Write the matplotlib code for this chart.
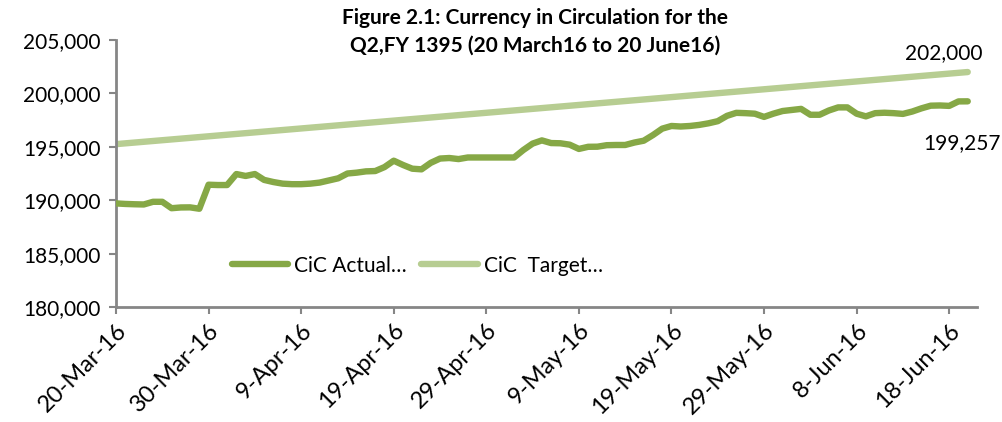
import matplotlib
matplotlib.use("Agg")
import matplotlib.pyplot as plt
import matplotlib.ticker as mticker
import matplotlib.transforms as mtransforms
import pandas as pd

plt.rcParams['font.family'] = ['Lato', 'DejaVu Sans']

# ---- data ----
actual_start = '2016-03-20'
actual_end = '2016-06-20'
actual_values = [
    189700, 189650, 189620, 189600, 189850, 189850, 189250, 189320, 189330, 189200,
    191450, 191420, 191420, 192450, 192270, 192450, 191900, 191700, 191550, 191500,
    191500, 191550, 191650, 191850, 192050, 192500, 192580, 192700, 192730, 193100,
    193700, 193300, 192950, 192890, 193500, 193900, 193950, 193850, 194000, 194000,
    194000, 194000, 194000, 194000, 194700, 195300, 195600, 195350, 195330, 195200,
    194800, 195000, 195010, 195150, 195170, 195170, 195400, 195570, 196100, 196700,
    196950, 196900, 196950, 197050, 197200, 197400, 197900, 198180, 198150, 198100,
    197800, 198100, 198350, 198450, 198550, 198000, 198000, 198400, 198690, 198690,
    198100, 197850, 198150, 198190, 198150, 198080, 198300, 198600, 198850, 198870,
    198830, 199250, 199257,
]
target_dates = ['2016-03-20', '2016-06-20']
target_values = [195250, 202000]
series_labels = ['CiC Actual\u2026', 'CiC  Target\u2026']
title_text = 'Figure 2.1: Currency in Circulation for the\nQ2,FY 1395 (20 March16 to 20 June16)'
end_labels = ['202,000', '199,257']
y_ticks = [180000, 185000, 190000, 195000, 200000, 205000]

actual_dates = pd.date_range(actual_start, actual_end, freq='D')
tdates = pd.to_datetime(target_dates)

c_actual = '#86A846'
c_target = '#B7CD92'
grey = '#868686'

fig = plt.figure(figsize=(10.03, 4.22), dpi=100)
ax = fig.add_axes([116/1003, 1-307/422, (977-116)/1003, (307-40)/422])

ax.plot(tdates, target_values, color=c_target, lw=4.6, solid_capstyle='round',
        label=series_labels[1], zorder=2)
ax.plot(actual_dates, actual_values, color=c_actual, lw=4.6, solid_capstyle='round',
        solid_joinstyle='round', label=series_labels[0], zorder=3)

ax.set_ylim(180000, 205000)
ax.set_yticks(y_ticks)
ax.yaxis.set_major_formatter(mticker.FuncFormatter(lambda v, p: f'{int(v):,}'))

x0 = pd.Timestamp(actual_start)
x1 = pd.Timestamp(actual_end) + pd.Timedelta(days=1)
ax.set_xlim(x0, x1)
xt = pd.date_range(actual_start, actual_end, freq='10D')
ax.set_xticks(xt)
ax.set_xticklabels([f"{d.day}-{d.strftime('%b-%y')}" for d in xt],
                   rotation=45, ha='right', rotation_mode='anchor', fontsize=17)
shift = mtransforms.ScaledTranslation(6/100, 0, fig.dpi_scale_trans)
for lbl in ax.get_xticklabels():
    lbl.set_transform(lbl.get_transform() + shift)

for s in ['top', 'right']:
    ax.spines[s].set_visible(False)
for s in ['left', 'bottom']:
    ax.spines[s].set_color(grey)
    ax.spines[s].set_linewidth(2)
ax.tick_params(axis='both', colors=grey, width=1.5, length=5, direction='out',
               labelcolor='black')
ax.tick_params(axis='y', pad=6, labelsize=15)
ax.tick_params(axis='x', pad=4)

ax.annotate(end_labels[0], xy=(tdates[-1], target_values[-1]), xytext=(-17, 14),
            textcoords='offset points', fontsize=15, ha='center', va='center')
ax.annotate(end_labels[1], xy=(actual_dates[-1], actual_values[-1]), xytext=(-4, -30),
            textcoords='offset points', fontsize=15, ha='center', va='center')

handles, labels = ax.get_legend_handles_labels()
leg = ax.legend(handles[::-1], labels[::-1], loc='center', bbox_to_anchor=(0.35, 0.155),
                ncol=2, frameon=False, fontsize=15, handlelength=2.7, handletextpad=0.3,
                columnspacing=0.7)

fig.text(535/1003, 1-32/422, title_text, ha='center', va='center', fontsize=15,
         fontweight='bold', linespacing=1.45)

fig.savefig('out.png', dpi=100)
